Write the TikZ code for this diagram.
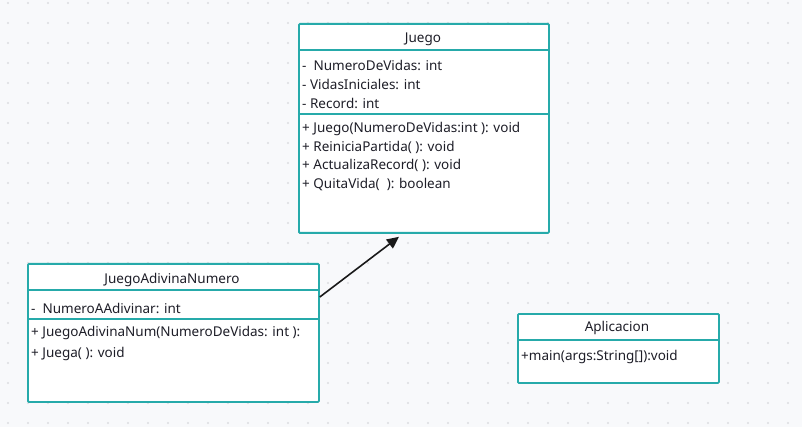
\documentclass[tikz,border=0pt]{standalone}
\usepackage{fontspec}
\setmainfont{Noto Sans}
\usetikzlibrary{arrows.meta,calc}
\definecolor{teal1}{RGB}{38,170,170}
\definecolor{bgc}{RGB}{248,249,251}
\definecolor{dotc}{RGB}{220,221,225}
\definecolor{txt}{RGB}{30,30,40}
\begin{document}
\begin{tikzpicture}[x=1pt,y=-1pt,
  classbox/.style={draw=teal1, line width=1.8pt, fill=white, rounded corners=1pt, inner sep=0pt, anchor=north west},
  divider/.style={draw=teal1, line width=1.8pt},
  member/.style={anchor=west, inner sep=0pt, font=\fontsize{13.5}{15}\selectfont, text=txt},
  title/.style={anchor=center, inner sep=0pt, font=\fontsize{13.5}{15}\selectfont, text=txt},
  conn/.style={draw=black!90, line width=1.6pt, -{Triangle[length=12pt,width=11pt]}}]
\fill[bgc] (0,0) rectangle (802,427);
\useasboundingbox (0,0) rectangle (802,427);
\foreach \i in {0,...,39} {\foreach \j in {0,...,21} {\fill[dotc] (8+20*\i,3+20*\j) circle (1.2pt);}}
% Juego
\node[classbox, minimum width=250pt, minimum height=209pt] (juego) at (298,23) {};
\draw[divider] (298,50) -- (548,50);
\draw[divider] (298,114) -- (548,114);
\node[title] (jt) at (423,39) {Juego};
\node[member] (j1) at (302,65) {-\ \ NumeroDeVidas: int};
\node[member] (j2) at (302,84) {- VidasIniciales: int};
\node[member] (j3) at (302,103) {- Record: int};
\node[member] (j4) at (302,129) {+ Juego(NumeroDeVidas:int ): void};
\node[member] (j5) at (302,147) {+ ReiniciaPartida( ): void};
\node[member] (j6) at (302,165) {+ ActualizaRecord( ): void};
\node[member] (j7) at (302,185) {+ QuitaVida(\ \ ): boolean};
% JuegoAdivinaNumero
\node[classbox, minimum width=291pt, minimum height=138pt] (jan) at (27,263) {};
\draw[divider] (27,290) -- (318,290);
\draw[divider] (27,319) -- (318,319);
\node[title] (jant) at (172,280) {JuegoAdivinaNumero};
\node[member] (jan1) at (31,308) {-\ \ NumeroAAdivinar: int};
\node[member] (jan2) at (31,333) {+ JuegoAdivinaNum(NumeroDeVidas: int ):};
\node[member] (jan3) at (31,354) {+ Juega( ): void};
% Aplicacion
\node[classbox, minimum width=201pt, minimum height=69pt] (app) at (517,313) {};
\draw[divider] (517,340) -- (718,340);
\node[title] (appt) at (617,328) {Aplicacion};
\node[member] (app1) at (521,357) {+main(args:String[]):void};
% connector
\coordinate (cs) at ($(jan.north east)+(0,34)$);
\coordinate (ce) at ($(juego.south west)+(101,3)$);
\draw[conn] (cs) -- (ce);
\end{tikzpicture}
\end{document}
